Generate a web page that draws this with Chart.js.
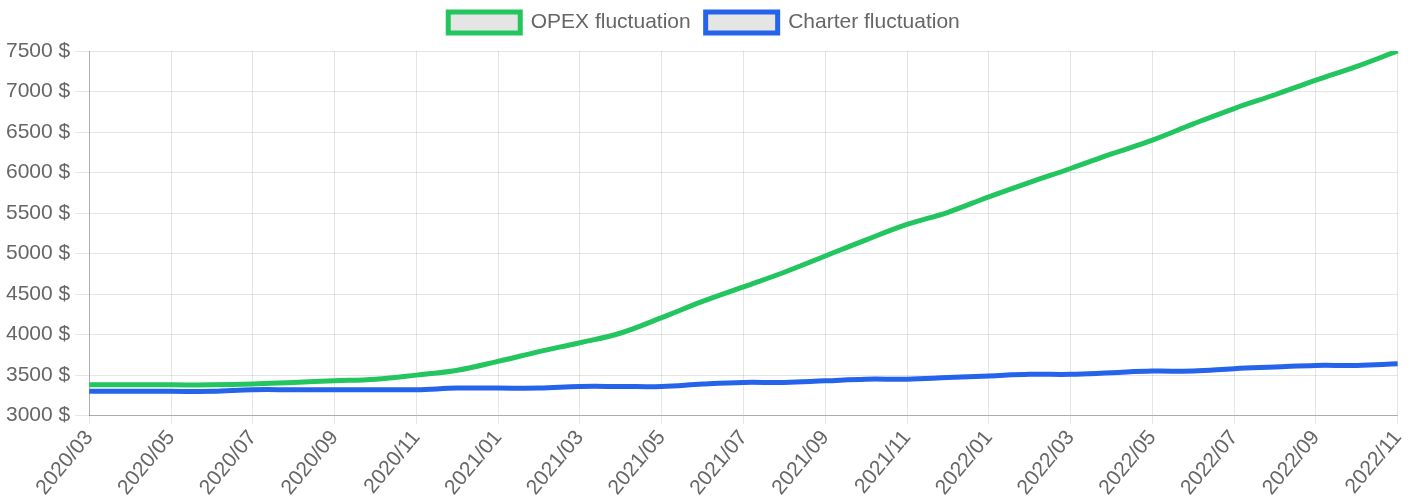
<!DOCTYPE html>
<html lang="en">
<head>
    <meta charset="UTF-8">
    <title>OPEX vs Charter fluctuation</title>
    <script src="https://cdn.jsdelivr.net/npm/chart.js@4.4.2/dist/chart.umd.min.js"></script>
    <style>
        html, body { margin: 0; padding: 0; background: #fff; }
        .chart-wrap { position: relative; width: 1419px; height: 502px; }
    </style>
</head>
<body>
    <div class="chart-wrap">
        <canvas id="fluctChart"></canvas>
    </div>

    <script>
        // monthly labels, 2020/03 .. 2022/11
        const months = [
            '2020/03', '2020/04', '2020/05', '2020/06', '2020/07', '2020/08', '2020/09', '2020/10', '2020/11', '2020/12',
            '2021/01', '2021/02', '2021/03', '2021/04', '2021/05', '2021/06', '2021/07', '2021/08', '2021/09', '2021/10', '2021/11', '2021/12',
            '2022/01', '2022/02', '2022/03', '2022/04', '2022/05', '2022/06', '2022/07', '2022/08', '2022/09', '2022/10', '2022/11'
        ];

        const opexValues = [
            3380, 3380, 3380, 3380, 3390, 3410, 3430, 3450, 3500, 3560,
            3670, 3790, 3900, 4020, 4210, 4410, 4590, 4770, 4970, 5170, 5360, 5510,
            5700, 5880, 6050, 6230, 6400, 6600, 6790, 6960, 7140, 7310, 7500
        ];

        const charterValues = [
            3300, 3300, 3300, 3300, 3320, 3320, 3320, 3320, 3320, 3340,
            3340, 3340, 3360, 3360, 3360, 3390, 3410, 3410, 3430, 3450, 3450, 3470,
            3490, 3510, 3510, 3530, 3550, 3550, 3580, 3600, 3620, 3620, 3640
        ];

        const yMin = 3000;
        const yMax = 7500;
        const yStep = 500;

        const fontFamily = '"Liberation Sans", Arial, Helvetica, sans-serif';
        const gridColor = 'rgba(0, 0, 0, 0.1)';

        // a bit of room between the legend and the plot
        const legendMargin = {
            id: 'legendMargin',
            beforeInit(chart) {
                const fit = chart.legend.fit;
                chart.legend.fit = function () {
                    fit.bind(chart.legend)();
                    this.height += 8;
                };
            }
        };

        const ctx = document.getElementById('fluctChart').getContext('2d');

        new Chart(ctx, {
            type: 'line',
            data: {
                labels: months,
                datasets: [{
                    label: 'OPEX fluctuation',
                    data: opexValues,
                    borderColor: 'rgb(34, 197, 94)',
                    backgroundColor: 'rgba(0, 0, 0, 0.1)',
                    borderWidth: 5,
                    pointRadius: 0,
                    tension: 0.4,
                    fill: false
                },
                {
                    label: 'Charter fluctuation',
                    data: charterValues,
                    borderColor: 'rgb(37, 99, 235)',
                    backgroundColor: 'rgba(0, 0, 0, 0.1)',
                    borderWidth: 5,
                    pointRadius: 0,
                    tension: 0.4,
                    fill: false
                }]
            },
            options: {
                responsive: true,
                maintainAspectRatio: false,
                animation: false,
                layout: { padding: { left: 1, right: 12, top: -3, bottom: 0 } },
                scales: {
                    x: {
                        grid: { color: gridColor, tickLength: 8 },
                        border: { color: 'rgba(0, 0, 0, 0.25)' },
                        ticks: {
                            autoSkip: false,
                            minRotation: 50,
                            maxRotation: 50,
                            padding: 2,
                            color: '#666',
                            font: { family: fontFamily, size: 21 },
                            // only every other month gets a label (and a grid line)
                            callback: function (value, index) {
                                return index % 2 === 0 ? this.getLabelForValue(value) : null;
                            }
                        }
                    },
                    y: {
                        min: yMin,
                        max: yMax,
                        grid: { color: gridColor, tickLength: 14 },
                        border: { color: 'rgba(0, 0, 0, 0.25)' },
                        ticks: {
                            stepSize: yStep,
                            padding: 5,
                            color: '#666',
                            font: { family: fontFamily, size: 21 },
                            callback: value => value + ' $'
                        }
                    }
                },
                plugins: {
                    legend: {
                        position: 'top',
                        labels: {
                            color: '#666',
                            boxWidth: 72,
                            boxHeight: 21,
                            padding: 15,
                            font: { family: fontFamily, size: 21 }
                        }
                    },
                    tooltip: { enabled: false }
                }
            },
            plugins: [legendMargin]
        });
    </script>
</body>
</html>
